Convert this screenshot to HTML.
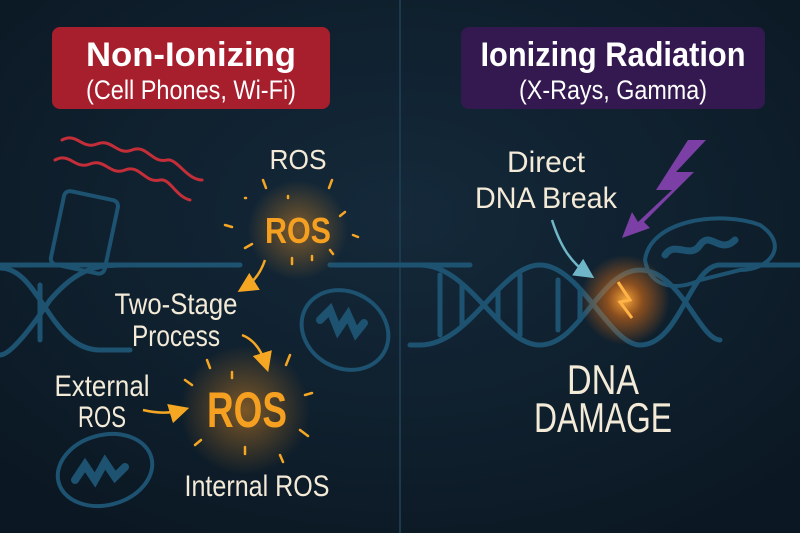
<!DOCTYPE html>
<html><head><meta charset="utf-8"><style>
html,body{margin:0;padding:0;background:#0e1b28;}
svg{display:block;}
text{font-family:"Liberation Sans",sans-serif;}
</style></head><body>
<svg width="800" height="533" viewBox="0 0 800 533" xmlns="http://www.w3.org/2000/svg">
<defs>
<radialGradient id="bg" cx="50%" cy="40%" r="70%"><stop offset="0" stop-color="#14293a"/><stop offset="1" stop-color="#0b1823"/></radialGradient>
<radialGradient id="glow" cx="50%" cy="50%" r="50%"><stop offset="0" stop-color="#ff9a20" stop-opacity="0.45"/><stop offset="1" stop-color="#ff9a20" stop-opacity="0"/></radialGradient>
<radialGradient id="glow2" cx="50%" cy="50%" r="50%"><stop offset="0" stop-color="#ffb040" stop-opacity="0.95"/><stop offset="0.4" stop-color="#ff7a10" stop-opacity="0.5"/><stop offset="1" stop-color="#ff7a10" stop-opacity="0"/></radialGradient>
<marker id="ao" markerWidth="8" markerHeight="8" refX="5" refY="4" orient="auto"><path d="M0,0 L8,4 L0,8 Z" fill="#f5a623"/></marker>
<marker id="ab" markerWidth="8" markerHeight="8" refX="5" refY="4" orient="auto"><path d="M0,0 L8,4 L0,8 Z" fill="#6fb6c8"/></marker>
</defs>
<rect width="800" height="533" fill="url(#bg)"/>
<line x1="400" y1="0" x2="400" y2="533" stroke="#1c3a4e" stroke-width="2"/>

<g fill="none" stroke="#1d5270" stroke-width="5" stroke-linecap="round">
<path d="M0,265 L240,265 M330,265 L470,265"/>
<path d="M0,268 C40,268 50,350 100,350 L130,350"/>
<path d="M0,355 C10,355 30,330 50,300 C80,265 100,265 130,265"/>
<line x1="40" y1="285" x2="40" y2="340"/>
<path d="M420,265 C470,265 500,345 540,345 C580,345 600,270 640,270 C680,270 700,340 720,340 M420,345 C470,345 500,265 540,265 C580,265 610,345 640,345 C680,345 690,265 720,265 L800,265"/>
<path d="M410,265 L420,265 M410,345 L420,345"/>
<g stroke-width="5"><line x1="440" y1="275" x2="440" y2="335"/><line x1="462" y1="285" x2="462" y2="325"/><line x1="498" y1="290" x2="498" y2="320"/><line x1="520" y1="275" x2="520" y2="335"/><line x1="558" y1="280" x2="558" y2="330"/><line x1="580" y1="290" x2="580" y2="320"/></g>
<path d="M645,260 C650,220 720,210 760,225 C790,245 770,270 740,270 L700,280 C680,290 650,290 645,260 Z" stroke-width="4"/>
<path d="M665,255 C675,240 690,260 700,245 C710,230 720,255 735,240" stroke-width="7"/>
<ellipse cx="345" cy="330" rx="45" ry="38" transform="rotate(30 345 330)" stroke-width="4"/>
<path d="M320,320 l10,-10 l8,20 l10,-15 l8,18 l8,-10" stroke-width="8"/>
<ellipse cx="105" cy="470" rx="48" ry="35" transform="rotate(-15 105 470)" stroke-width="4"/>
<path d="M75,480 l10,-15 l10,15 l10,-18 l10,15 l10,-10" stroke-width="8"/>
<rect x="57" y="195" width="55" height="75" rx="6" transform="rotate(12 85 232)" stroke-width="4"/>
</g>
<g fill="none" stroke="#d8303a" stroke-width="3" stroke-linecap="round" opacity="0.9">
<path d="M62,140 c15,-8 20,10 35,4 c15,-6 20,12 35,6 c15,-6 20,14 35,10 c10,-2 20,20 35,20"/>
<path d="M55,160 c15,-8 20,10 35,4 c15,-6 20,12 35,6 c15,-6 20,14 35,10 c10,-2 15,16 30,20"/>
</g>

<rect x="52" y="27" width="278" height="82" rx="8" fill="#a71e2d"/>
<text x="191" y="66" text-anchor="middle" fill="#fff" font-size="34" font-weight="bold" textLength="210" lengthAdjust="spacingAndGlyphs">Non-Ionizing</text>
<text x="191" y="99" text-anchor="middle" fill="#fff" font-size="27" textLength="210" lengthAdjust="spacingAndGlyphs">(Cell Phones, Wi-Fi)</text>
<rect x="461" y="27" width="304" height="82" rx="8" fill="#33194f"/>
<text x="613" y="66" text-anchor="middle" fill="#fff" font-size="34" font-weight="bold" textLength="265" lengthAdjust="spacingAndGlyphs">Ionizing Radiation</text>
<text x="613" y="99" text-anchor="middle" fill="#fff" font-size="27" textLength="188" lengthAdjust="spacingAndGlyphs">(X-Rays, Gamma)</text>

<circle cx="298" cy="230" r="50" fill="url(#glow)"/>
<circle cx="245" cy="410" r="65" fill="url(#glow)"/>
<g stroke="#f5a623" stroke-width="2.5" stroke-linecap="round">
<line x1="263" y1="180" x2="266" y2="188"/><line x1="332" y1="180" x2="329" y2="188"/><line x1="245" y1="198" x2="246" y2="198"/><line x1="288" y1="196" x2="288" y2="198"/><line x1="225" y1="225" x2="232" y2="227"/><line x1="345" y1="212" x2="340" y2="216"/><line x1="353" y1="235" x2="358" y2="237"/><line x1="245" y1="248" x2="252" y2="244"/><line x1="292" y1="258" x2="292" y2="264"/><line x1="312" y1="256" x2="312" y2="260"/><line x1="333" y1="254" x2="330" y2="250"/>
<line x1="207" y1="360" x2="210" y2="368"/><line x1="232" y1="372" x2="232" y2="378"/><line x1="290" y1="355" x2="286" y2="365"/><line x1="305" y1="395" x2="312" y2="393"/><line x1="300" y1="430" x2="308" y2="436"/><line x1="280" y1="455" x2="283" y2="462"/><line x1="245" y1="447" x2="245" y2="454"/><line x1="195" y1="445" x2="201" y2="440"/><line x1="185" y1="380" x2="192" y2="385"/>
</g>
<g fill="none" stroke="#f5a623" stroke-width="2.5">
<path d="M265,260 C260,275 252,283 244,288" marker-end="url(#ao)"/>
<path d="M242,335 C255,340 262,352 266,365" marker-end="url(#ao)"/>
<path d="M143,410 C160,414 172,413 182,410" marker-end="url(#ao)"/>
</g>
<text x="298" y="169" text-anchor="middle" fill="#f3ead8" font-size="28" textLength="57" lengthAdjust="spacingAndGlyphs">ROS</text>
<text x="298" y="243" text-anchor="middle" fill="#f5a020" font-size="36" font-weight="bold" textLength="66" lengthAdjust="spacingAndGlyphs">ROS</text>
<text x="176" y="314" text-anchor="middle" fill="#f3ead8" font-size="30" textLength="123" lengthAdjust="spacingAndGlyphs">Two-Stage</text>
<text x="176" y="346" text-anchor="middle" fill="#f3ead8" font-size="30" textLength="88" lengthAdjust="spacingAndGlyphs">Process</text>
<text x="102" y="396" text-anchor="middle" fill="#f3ead8" font-size="30" textLength="95" lengthAdjust="spacingAndGlyphs">External</text>
<text x="102" y="427" text-anchor="middle" fill="#f3ead8" font-size="30" textLength="48" lengthAdjust="spacingAndGlyphs">ROS</text>
<text x="247" y="427" text-anchor="middle" fill="#f5a020" font-size="50" font-weight="bold" textLength="80" lengthAdjust="spacingAndGlyphs">ROS</text>
<text x="257" y="496" text-anchor="middle" fill="#f3ead8" font-size="30" textLength="145" lengthAdjust="spacingAndGlyphs">Internal ROS</text>

<circle cx="625" cy="300" r="45" fill="url(#glow2)"/>
<path d="M618,282 L630,300 L620,302 L632,318" fill="none" stroke="#ffb347" stroke-width="3"/>
<path d="M706,140 L688,140 L656,190 L672,190 L638,222 L632,212 L622,238 L650,228 L644,222 L694,172 L676,172 Z" fill="#7b3fa6"/>
<path d="M552,220 C560,245 570,262 588,274" fill="none" stroke="#6fb6c8" stroke-width="2.5" marker-end="url(#ab)"/>
<text x="546" y="172" text-anchor="middle" fill="#f3ead8" font-size="30" textLength="78" lengthAdjust="spacingAndGlyphs">Direct</text>
<text x="546" y="208" text-anchor="middle" fill="#f3ead8" font-size="30" textLength="142" lengthAdjust="spacingAndGlyphs">DNA Break</text>
<text x="603" y="394" text-anchor="middle" fill="#f3ead8" font-size="42" textLength="72" lengthAdjust="spacingAndGlyphs">DNA</text>
<text x="603" y="432" text-anchor="middle" fill="#f3ead8" font-size="42" textLength="138" lengthAdjust="spacingAndGlyphs">DAMAGE</text>
</svg>
</body></html>
